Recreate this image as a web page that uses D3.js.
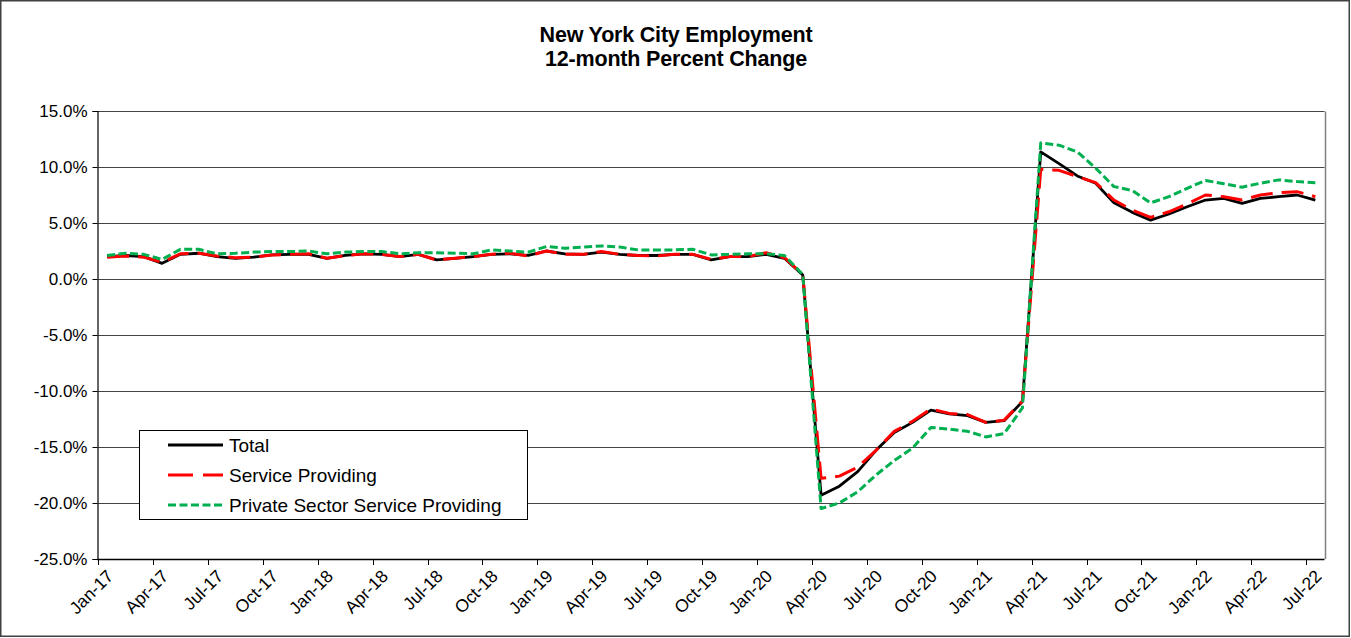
<!DOCTYPE html>
<html>
<head>
<meta charset="utf-8">
<script src="https://cdn.jsdelivr.net/npm/d3@7"></script>
<style>
  html, body { margin: 0; padding: 0; background: #fff; }
  svg { display: block; }
  text { font-family: "Liberation Sans", Arial, sans-serif; fill: #000; }
</style>
</head>
<body>
<svg id="chart" width="1351" height="638"></svg>
<script>
const months = ["Jan-17","Feb-17","Mar-17","Apr-17","May-17","Jun-17","Jul-17","Aug-17","Sep-17","Oct-17","Nov-17","Dec-17",
"Jan-18","Feb-18","Mar-18","Apr-18","May-18","Jun-18","Jul-18","Aug-18","Sep-18","Oct-18","Nov-18","Dec-18",
"Jan-19","Feb-19","Mar-19","Apr-19","May-19","Jun-19","Jul-19","Aug-19","Sep-19","Oct-19","Nov-19","Dec-19",
"Jan-20","Feb-20","Mar-20","Apr-20","May-20","Jun-20","Jul-20","Aug-20","Sep-20","Oct-20","Nov-20","Dec-20",
"Jan-21","Feb-21","Mar-21","Apr-21","May-21","Jun-21","Jul-21","Aug-21","Sep-21","Oct-21","Nov-21","Dec-21",
"Jan-22","Feb-22","Mar-22","Apr-22","May-22","Jun-22","Jul-22"];

const tickLabels = ["Jan-17","Apr-17","Jul-17","Oct-17","Jan-18","Apr-18","Jul-18","Oct-18","Jan-19","Apr-19","Jul-19","Oct-19",
"Jan-20","Apr-20","Jul-20","Oct-20","Jan-21","Apr-21","Jul-21","Oct-21","Jan-22","Apr-22","Jul-22"];

const yTicks = [-25, -20, -15, -10, -5, 0, 5, 10, 15];

const total = [2.0,2.1,2.0,1.4,2.2,2.3,2.0,1.85,1.95,2.15,2.2,2.2,
1.85,2.1,2.25,2.2,2.0,2.2,1.7,1.85,2.0,2.2,2.25,2.1,
2.5,2.25,2.2,2.4,2.2,2.1,2.1,2.2,2.2,1.7,2.0,2.0,
2.2,1.85,0.35,-19.3,-18.5,-17.2,-15.3,-13.7,-12.8,-11.7,-12.05,-12.2,
-12.8,-12.65,-10.95,11.35,10.3,9.2,8.55,6.8,5.95,5.25,5.8,6.45,
7.05,7.2,6.75,7.2,7.35,7.5,7.05];

const service = [1.95,2.05,1.95,1.5,2.25,2.3,2.05,1.9,1.95,2.15,2.2,2.25,
1.85,2.1,2.25,2.2,2.0,2.2,1.7,1.85,2.0,2.2,2.3,2.05,
2.5,2.2,2.2,2.45,2.2,2.1,2.05,2.2,2.2,1.75,2.0,2.0,
2.35,1.9,0.4,-17.8,-17.6,-16.8,-15.3,-13.6,-12.7,-11.6,-12.0,-12.1,
-12.8,-12.6,-10.9,9.8,9.7,9.15,8.6,7.05,6.15,5.5,6.0,6.7,
7.5,7.35,7.05,7.5,7.7,7.8,7.35];

const privateService = [2.1,2.3,2.2,1.75,2.65,2.65,2.25,2.3,2.4,2.45,2.45,2.5,
2.25,2.4,2.45,2.45,2.25,2.35,2.35,2.3,2.25,2.6,2.5,2.4,
2.9,2.75,2.85,2.95,2.85,2.6,2.6,2.6,2.65,2.15,2.2,2.25,
2.25,2.1,0.4,-20.5,-20.0,-19.0,-17.5,-16.2,-15.1,-13.25,-13.4,-13.6,
-14.1,-13.8,-11.5,12.15,11.95,11.35,9.9,8.25,7.9,6.8,7.35,8.1,
8.8,8.5,8.2,8.55,8.85,8.7,8.6];

const seriesNames = ["Total", "Service Providing", "Private Sector Service Providing"];
const seriesData = [total, service, privateService];
const seriesColors = ["#000000", "#FF0000", "#00B050"];
const seriesDash = [null, "22,9", "8,3.5"];
const seriesWidth = [2.8, 3, 3];

const svg = d3.select("#chart");
const W = 1351, H = 638;
const pLeft = 98, pRight = 1324.5, pTop = 111, pBottom = 559;

// outer border
svg.append("rect").attr("x", 0.75).attr("y", 0.75).attr("width", W - 2.5).attr("height", H - 2.5)
  .attr("fill", "#fff").attr("stroke", "#404040").attr("stroke-width", 1.5);

const x = d3.scaleBand().domain(months).range([pLeft, pRight]).paddingInner(0).paddingOuter(0);
const y = d3.scaleLinear().domain([-25, 15]).range([pBottom, pTop]);

// gridlines
svg.append("g").selectAll("line").data(yTicks.filter(d => d > -25)).join("line")
  .attr("x1", pLeft).attr("x2", pRight)
  .attr("y1", d => Math.round(y(d)) + 0.5).attr("y2", d => Math.round(y(d)) + 0.5)
  .attr("stroke", "#444").attr("stroke-width", 1);

// right border of plot area
svg.append("line").attr("x1", Math.round(pRight) + 0.5).attr("x2", Math.round(pRight) + 0.5)
  .attr("y1", Math.round(y(15)) + 0.5).attr("y2", pBottom)
  .attr("stroke", "#808080").attr("stroke-width", 1.5);

// y axis
const yAxis = d3.axisLeft(y).tickValues(yTicks).tickSize(5).tickPadding(5)
  .tickFormat(d => d.toFixed(1) + "%");
const gy = svg.append("g").attr("transform", `translate(${pLeft - 0.5},0)`).call(yAxis);
gy.select(".domain").attr("stroke", "#000").attr("stroke-width", 1.2);
gy.selectAll(".tick line").attr("stroke", "#000");
gy.selectAll(".tick text").style("font-family", "'Liberation Sans', Arial, sans-serif").style("font-size", "17px").attr("fill", "#000");

// x axis
const gx = svg.append("g");
gx.append("line").attr("x1", pLeft - 1).attr("x2", pRight).attr("y1", pBottom + 0.5).attr("y2", pBottom + 0.5)
  .attr("stroke", "#000").attr("stroke-width", 1.5);
gx.selectAll("line.tk").data(tickLabels).join("line").attr("class", "tk")
  .attr("x1", d => Math.round(x(d)) + 0.5).attr("x2", d => Math.round(x(d)) + 0.5)
  .attr("y1", pBottom).attr("y2", pBottom + 6).attr("stroke", "#000").attr("stroke-width", 1);
gx.selectAll("text").data(tickLabels).join("text")
  .attr("transform", d => `translate(${x(d) + x.bandwidth() / 2 + 3},${pBottom + 14}) rotate(-45)`)
  .attr("text-anchor", "end").attr("dy", "0.35em")
  .style("font-size", "17.5px").text(d => d);

// lines
const lineGen = d3.line().x((d, i) => x(months[i]) + x.bandwidth() / 2).y(d => y(d));
seriesData.forEach((data, k) => {
  svg.append("path").datum(data)
    .attr("d", lineGen).attr("fill", "none")
    .attr("stroke", seriesColors[k]).attr("stroke-width", seriesWidth[k])
    .attr("stroke-dasharray", seriesDash[k]).attr("stroke-linejoin", "round");
});

// title
svg.append("text").attr("x", 676).attr("y", 42).attr("text-anchor", "middle")
  .style("font-size", "21.5px").style("font-weight", "bold").style("letter-spacing", "-0.2px").text("New York City Employment");
svg.append("text").attr("x", 676).attr("y", 66).attr("text-anchor", "middle")
  .style("font-size", "21.5px").style("font-weight", "bold").style("letter-spacing", "-0.2px").text("12-month Percent Change");

// legend
const lg = svg.append("g");
lg.append("rect").attr("x", 139.5).attr("y", 430.5).attr("width", 388).attr("height", 89)
  .attr("fill", "#fff").attr("stroke", "#000").attr("stroke-width", 1);
const rowsY = [445, 475, 505];
seriesNames.forEach((name, k) => {
  lg.append("line").attr("x1", 168).attr("x2", 223).attr("y1", rowsY[k]).attr("y2", rowsY[k])
    .attr("stroke", seriesColors[k]).attr("stroke-width", seriesWidth[k])
    .attr("stroke-dasharray", k === 1 ? "25,10" : seriesDash[k]);
  lg.append("text").attr("x", 229).attr("y", rowsY[k]).attr("dy", "0.35em")
    .style("font-size", "19px").text(name);
});
</script>
</body>
</html>
